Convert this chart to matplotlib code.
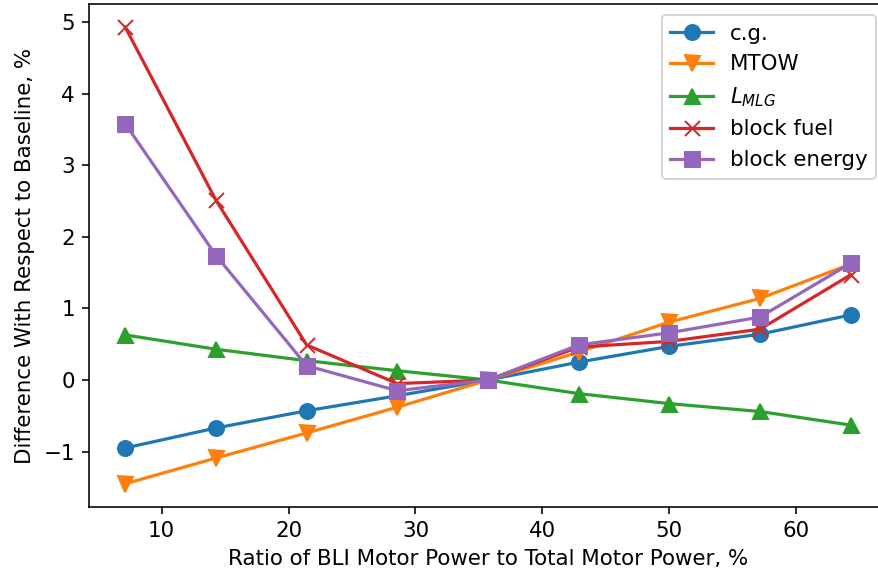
import matplotlib
matplotlib.use("Agg")
import matplotlib.pyplot as plt

# BLI motor power share, %
ratio = [7.14, 14.29, 21.43, 28.57, 35.71, 42.86, 50.0, 57.14, 64.29]

# Differences relative to the baseline configuration, %
cg = [-0.95, -0.67, -0.43, -0.22, 0.0, 0.25, 0.47, 0.64, 0.91]
mtow = [-1.45, -1.09, -0.74, -0.38, 0.0, 0.39, 0.81, 1.14, 1.62]
l_mlg = [0.63, 0.43, 0.27, 0.13, 0.0, -0.19, -0.33, -0.44, -0.63]
block_fuel = [4.93, 2.51, 0.49, -0.05, 0.0, 0.46, 0.54, 0.71, 1.47]
block_energy = [3.58, 1.74, 0.20, -0.15, 0.0, 0.49, 0.66, 0.88, 1.63]

labels = ["c.g.", "MTOW", r"$L_{MLG}$", "block fuel", "block energy"]
markers = ["o", "v", "^", "x", "s"]

plt.rcParams["font.size"] = 10.7

DPI = 144
fig = plt.figure(figsize=(878 / DPI, 573 / DPI), dpi=DPI)
ax = fig.add_axes([89 / 878, 66.4 / 573, 798 / 878, 502.2 / 573])

for series, label, mk in zip([cg, mtow, l_mlg, block_fuel, block_energy], labels, markers):
    ax.plot(ratio, series, marker=mk, markersize=7.5, linewidth=1.6, label=label)

ax.set_xlabel("Ratio of BLI Motor Power to Total Motor Power, %")
ax.set_ylabel("Difference With Respect to Baseline, %")
ax.legend(loc="upper right")

fig.savefig("out.png", dpi=DPI)
